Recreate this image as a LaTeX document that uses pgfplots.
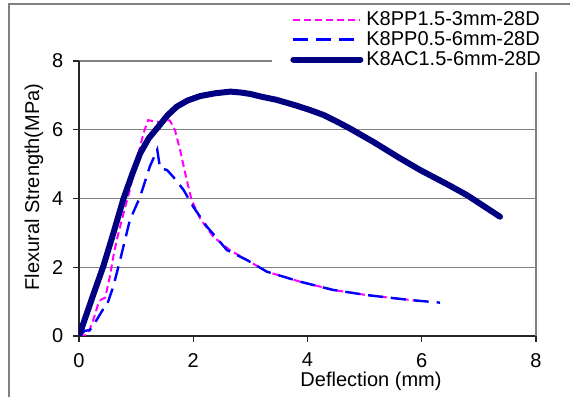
\documentclass[border=0pt]{standalone}
\usepackage{fontspec}
\setmainfont{Liberation Sans}
\usepackage{pgfplots}
\pgfplotsset{compat=1.18}
\definecolor{navyc}{HTML}{000080}
\definecolor{magc}{HTML}{FF00FF}
\definecolor{bluec}{HTML}{0000FF}
\definecolor{gridc}{HTML}{808080}
\begin{document}
\begin{tikzpicture}
\begin{axis}[
  at={(0pt,0pt)}, anchor=south west,
  scale only axis, width=228.5pt, height=137.5pt,
  xmin=0, xmax=8, ymin=0, ymax=8,
  xtick={0,2,4,6,8}, ytick={0,2,4,6,8},
  axis x line*=bottom, axis y line*=left,
  axis line style={black!85, line width=0.6pt},
  tick style={black!85, line width=0.6pt},
  tick align=outside, major tick length=3pt,
  ymajorgrids, major grid style={gridc, line width=0.6pt},
  extra x ticks={8}, extra x tick labels={},
  extra x tick style={grid=major, major tick length=0pt},
  /pgf/number format/assume math mode=true,
  tick label style={font=\normalsize},
  xticklabel style={yshift=-2pt},
  yticklabel style={xshift=-1.4pt},
  xlabel={Deflection (mm)},
  ylabel={Flexural Strength(MPa)},
  x label style={at={(axis description cs:0.639,-0.182)}, anchor=base},
  y label style={at={(axis description cs:-0.0985,0.542)}, anchor=center},
  legend image code/.code={\path (0pt,0pt); \draw[#1] (8pt,0pt) -- (41.5pt,0pt);},
  legend cell align=left,
  legend style={at={(axis description cs:0.4223,0.96)}, anchor=south west,
    draw=none, fill=white, inner sep=1pt, row sep=0pt, column sep=0.5pt,
    nodes={inner sep=1pt, text height=7pt, text depth=1pt}},
]
\addplot[magc, line width=1pt, dash pattern=on 3.5pt off 2pt] coordinates {
(0,0) (0.1,0.02) (0.18,0.15) (0.25,0.47) (0.33,0.9) (0.38,1.05) (0.46,1.12)
(0.54,1.73) (0.6,2.3) (0.66,2.79) (0.78,3.57) (0.89,4.25) (1.01,5.12) (1.13,5.9)
(1.21,6.28) (1.3,6.25) (1.42,6.22) (1.5,6.28) (1.59,6.27) (1.68,5.99) (1.77,5.41)
(1.86,4.73) (1.97,3.96) (2.12,3.42) (2.35,2.89) (2.64,2.50) (2.94,2.21) (3.29,1.87)
(3.87,1.58) (4.45,1.34) (5.04,1.19) (5.62,1.08) (5.95,1.02)
};
\addlegendentry{K8PP1.5-3mm-28D}
\addplot[bluec, line width=1.2pt, dash pattern=on 7.5pt off 4pt] coordinates {
(0,0) (0.1,0.15) (0.19,0.17) (0.31,0.47) (0.43,0.8) (0.48,0.85) (0.6,1.44)
(0.72,2.21) (0.89,3.37) (1.07,4.05) (1.24,4.93) (1.37,5.42) (1.42,4.88) (1.54,4.83)
(1.65,4.63) (1.83,4.25) (2.0,3.76) (2.24,3.18) (2.59,2.50) (2.94,2.21) (3.29,1.87)
(3.87,1.58) (4.45,1.34) (5.04,1.19) (5.62,1.08) (5.91,1.03) (6.32,0.97)
};
\addlegendentry{K8PP0.5-6mm-28D}
\addplot[navyc, line width=3pt, line cap=round, line join=round] coordinates {
(0,0) (0.25,1.2) (0.43,2.05) (0.6,2.98) (0.78,4.0) (0.93,4.7) (1.07,5.31)
(1.22,5.75) (1.39,6.09) (1.55,6.42) (1.71,6.67) (1.9,6.85) (2.12,6.98) (2.38,7.06)
(2.65,7.11) (2.85,7.08) (3.0,7.04) (3.2,6.96) (3.46,6.87) (3.81,6.70) (4.05,6.57)
(4.28,6.43) (4.5,6.25) (4.74,6.04) (5.15,5.65) (5.62,5.17) (5.97,4.83) (6.44,4.42)
(6.79,4.10) (7.14,3.72) (7.37,3.47)
};
\addlegendentry{K8AC1.5-6mm-28D}
\end{axis}
\draw[gridc, line width=0.6pt] (-35pt,-40pt) -- (-35pt,166pt) -- (260pt,166pt);
\pgfresetboundingbox
\path[use as bounding box] (-39.5pt,-30.5pt) rectangle (245.5pt,168pt);
\end{tikzpicture}
\end{document}
